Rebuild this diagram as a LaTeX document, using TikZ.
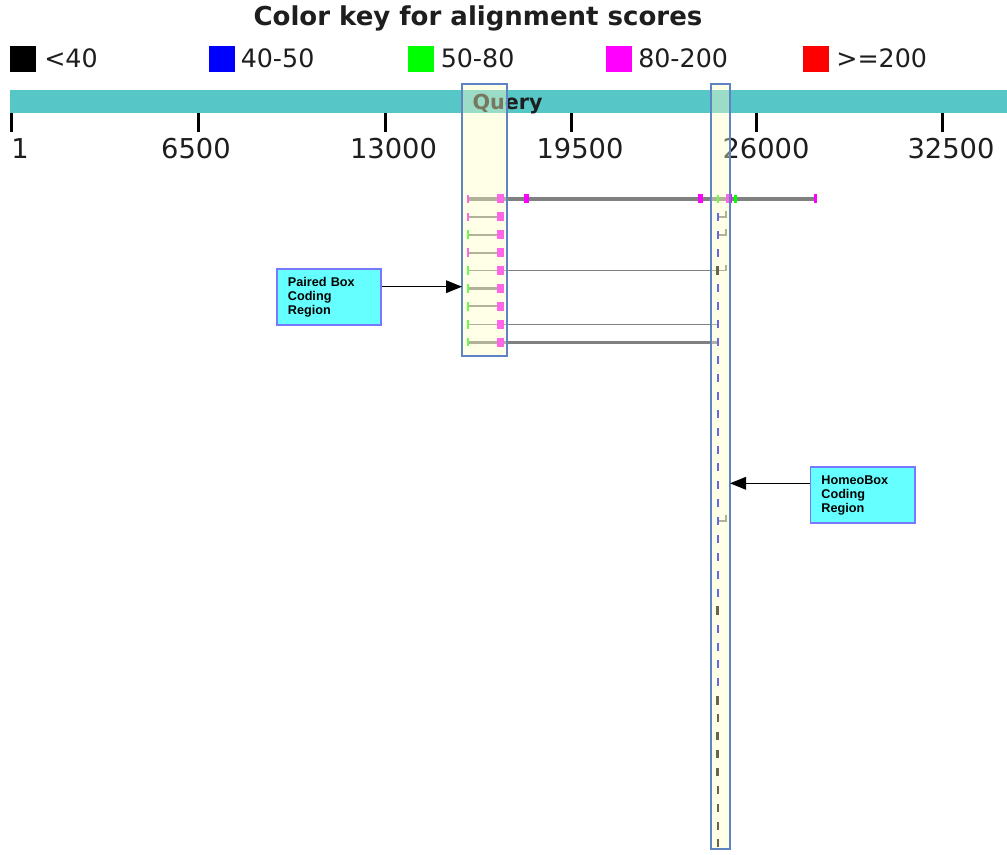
\documentclass[tikz,border=0pt]{standalone}
\usepackage{fontspec}
\newfontfamily\dejavu{DejaVu Sans}
\newfontfamily\arialf{Liberation Sans}
\usetikzlibrary{arrows.meta,fit}
\definecolor{qteal}{RGB}{87,198,198}
\definecolor{hlfill}{RGB}{255,255,197}
\definecolor{hlborder}{RGB}{94,132,196}
\definecolor{cbfill}{RGB}{102,255,255}
\definecolor{cbborder}{RGB}{120,120,255}
\definecolor{rowgray}{RGB}{128,128,128}
\definecolor{kmag}{RGB}{255,0,255}
\definecolor{kgreen}{RGB}{0,255,0}
\definecolor{kblue}{RGB}{0,0,255}
\definecolor{kred}{RGB}{255,0,0}
\definecolor{titlecol}{RGB}{30,30,30}
\tikzset{
  txt/.style={inner sep=0pt, anchor=base},
  legsq/.style={inner sep=0pt, minimum size=19.5pt},
  legtxt/.style={inner sep=0pt, anchor=base west, font=\dejavu\fontsize{19}{22}\selectfont, text=titlecol},
  ticklab/.style={inner sep=0pt, anchor=base, font=\dejavu\fontsize{20.5}{24}\selectfont, text=titlecol},
  tickmark/.style={line width=2pt, black},
  hlbox/.style={inner sep=0pt, fill=hlfill, fill opacity=0.4, draw=hlborder, line width=1.1pt},
  cbox/.style={fill=cbfill, draw=cbborder, line width=1.3pt, text width=61.7pt, inner xsep=8.25pt,
    minimum height=42pt, align=left, font=\arialf\bfseries\fontsize{9.5}{10.5}\selectfont},
  callarrow/.style={line width=0.8pt, black, -{Triangle[length=12pt,width=9.5pt]}},
  bracket/.style={rowgray, line width=1.2pt},
}
\begin{document}
\begin{tikzpicture}[x=0.75pt,y=-0.75pt]
\useasboundingbox (0,0) rectangle (1007,855);
\fill[white] (0,0) rectangle (1007,855);

% title
\node[txt, font=\dejavu\bfseries\fontsize{19.5}{23}\selectfont, text=titlecol] (title) at (478,26) {Color key for alignment scores};

% legend
\node[legsq, fill=black] (sq1) at (23,59.5) {};
\node[legtxt] (lt1) at (44,68) {<40};
\node[legsq, fill=kblue] (sq2) at (222,59.5) {};
\node[legtxt] (lt2) at (240.5,68) {40-50};
\node[legsq, fill=kgreen] (sq3) at (421,59.5) {};
\node[legtxt] (lt3) at (440.5,68) {50-80};
\node[legsq, fill=kmag] (sq4) at (618.5,59.5) {};
\node[legtxt] (lt4) at (638,68) {80-200};
\node[legsq, fill=kred] (sq5) at (815.5,59.5) {};
\node[legtxt] (lt5) at (836,68) {>=200};

% query bar
\node[inner sep=0pt, fill=qteal, minimum width=747.75pt, minimum height=17.25pt] (query) at (508.5,101.5) {};
\node[txt, font=\dejavu\bfseries\fontsize{15.5}{18}\selectfont, text=titlecol] (qlabel) at (507.5,109.5) {Query};

% ticks
\foreach \x/\c/\lab in {11.3/20/1, 198.3/196/6500, 385.7/393.5/13000, 571.7/580/19500, 756.7/766/26000, 942.3/951/32500}{
  \draw[tickmark] (\x,113) -- (\x,132.5);
  \node[ticklab] at (\c,159) {\lab};
}

% left rows: index / left mark colour / line width (px) / line end
\foreach \i/\lc/\w/\e in {0/kmag/3.3/816.5, 1/kmag/2/500, 2/kgreen/2/500, 3/kmag/2/500, 4/kgreen/1/717, 5/kgreen/3.7/500, 6/kgreen/2/500, 7/kgreen/1/717, 8/kgreen/2.7/717}{
  \pgfmathsetmacro\y{199+17.9*\i}
  \draw[rowgray, line width=\w*0.75pt] (468,\y) -- (\e,\y);
  \fill[\lc] (466.7,\y-4.3) rectangle (469.4,\y+4.3);
  \fill[kmag] (496.7,\y-4.5) rectangle (504,\y+4.5);
}
% row 0 extra marks
\fill[kmag] (524,194.5) rectangle (529,203.5);
\fill[kmag] (697.8,194.5) rectangle (703.3,203.5);
\fill[kgreen] (716.7,195) rectangle (718.9,203);
\fill[kmag] (726,194.5) rectangle (731.7,203.5);
\fill[kgreen] (733.8,195) rectangle (737,203);
\fill[kmag] (814,194.5) rectangle (816.8,203.5);

% right dashes
\foreach \i in {1,2,3,5,6,...,22,24,25,26,27}{
  \pgfmathsetmacro\y{199+17.9*\i}
  \fill[kblue] (716.5,\y-4) rectangle (719,\y+4);
}
\foreach \i in {4,23,28,30,31,32}{
  \pgfmathsetmacro\y{199+17.9*\i}
  \fill[black] (715.8,\y-4.3) rectangle (719.2,\y+4.3);
}
\foreach \i in {29,33,34,35,36}{
  \pgfmathsetmacro\y{199+17.9*\i}
  \fill[black] (717,\y-4) rectangle (719,\y+4);
}
\foreach \i in {1,2,4,18}{
  \pgfmathsetmacro\y{199+17.9*\i}
  \draw[bracket] (719,\y) -- (726,\y) -- (726,\y-6);
}

% highlight boxes
\coordinate (h1a) at (462,84);
\coordinate (h1b) at (507,356);
\coordinate (h2a) at (711,84);
\coordinate (h2b) at (730,849);
\node[hlbox, fit=(h1a)(h1b)] (hl1) {};
\node[hlbox, fit=(h2a)(h2b)] (hl2) {};

% callouts
\node[cbox] (pb) at (329,297) {Paired Box\\Coding\\Region};
\node[cbox] (hb) at (862.5,495) {HomeoBox\\Coding\\Region};
\coordinate (pbtip) at (462,286.7);
\coordinate (hbtip) at (730,483.3);
\draw[callarrow] (pbtip -| pb.east) -- (pbtip);
\draw[callarrow] (hbtip -| hb.west) -- (hbtip);
\end{tikzpicture}
\end{document}
